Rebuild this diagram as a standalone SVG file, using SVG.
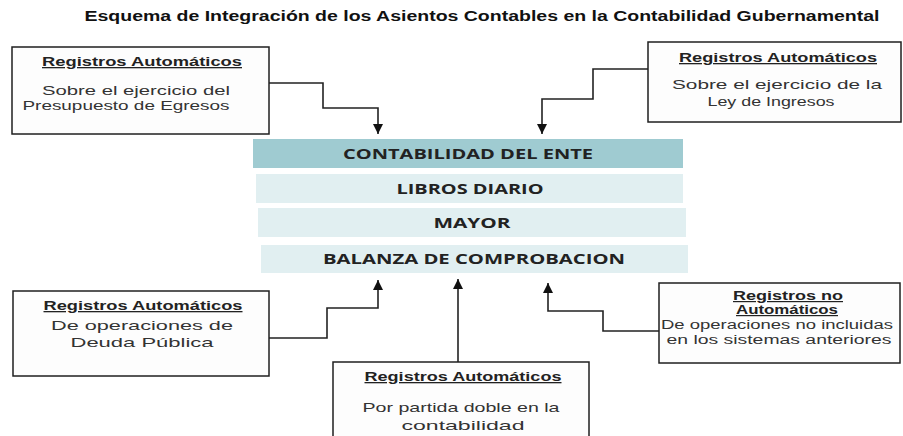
<svg xmlns="http://www.w3.org/2000/svg" width="903" height="436" viewBox="0 0 903 436">
<style>
.box{fill:#fdfdfd;stroke:#1f1f1f;stroke-width:1.5}
.h{font-family:"Liberation Sans",Arial,sans-serif;font-weight:bold;font-size:13px;fill:#222;text-anchor:middle;text-decoration:underline}
.h2{font-family:"Liberation Sans",Arial,sans-serif;font-weight:bold;font-size:12px;fill:#222;text-anchor:middle;text-decoration:underline}
.t{font-family:"Liberation Sans",Arial,sans-serif;font-size:13px;fill:#333;text-anchor:middle}
.s{font-family:"Liberation Sans",Arial,sans-serif;font-size:12px;fill:#333;text-anchor:middle}
.bar{fill:#e1eff1}
.bt{font-family:"Open Sans","Liberation Sans",sans-serif;font-weight:bold;font-size:14px;fill:#222;text-anchor:middle}
.c{fill:none;stroke:#222;stroke-width:1.6;marker-end:url(#ah)}
</style>
<defs>
<marker id="ah" markerUnits="userSpaceOnUse" markerWidth="10" markerHeight="10" refX="10" refY="5" orient="auto">
<path d="M0,0 L10,5 L0,10 z" fill="#111"/>
</marker>
</defs>
<rect width="903" height="436" fill="#ffffff"/>
<text x="482" y="21" font-family="Liberation Sans,Arial,sans-serif" font-weight="bold" font-size="14" fill="#111" text-anchor="middle" textLength="795" lengthAdjust="spacingAndGlyphs">Esquema de Integración de los Asientos Contables en la Contabilidad Gubernamental</text>

<g id="connectors">
<path class="c" d="M269,83 H323 V108 H378 V134"/>
<path class="c" d="M648,69 H593 V99 H542 V134"/>
<path class="c" d="M269,338 H327 V308 H378 V280"/>
<path class="c" d="M458,362 V279"/>
<path class="c" d="M659,331 H603 V311 H548 V283"/>
</g>

<g id="contabilidad-ente">
<rect x="253" y="139" width="430" height="29" fill="#9fcbd1"/>
<text class="bt" x="468" y="159" textLength="250" lengthAdjust="spacingAndGlyphs">CONTABILIDAD DEL ENTE</text>
</g>
<g id="libros-diario">
<rect class="bar" x="256" y="174" width="427" height="29"/>
<text class="bt" x="470" y="194" textLength="147" lengthAdjust="spacingAndGlyphs">LIBROS DIARIO</text>
</g>
<g id="mayor">
<rect class="bar" x="258" y="208" width="428" height="29"/>
<text class="bt" x="472" y="228" textLength="77" lengthAdjust="spacingAndGlyphs">MAYOR</text>
</g>
<g id="balanza">
<rect class="bar" x="261" y="245" width="427" height="28"/>
<text class="bt" x="474" y="264" textLength="302" lengthAdjust="spacingAndGlyphs">BALANZA DE COMPROBACION</text>
</g>

<g id="egresos">
<rect class="box" x="12" y="47" width="257" height="87"/>
<text class="h" x="142" y="66" textLength="200" lengthAdjust="spacingAndGlyphs">Registros Automáticos</text>
<text class="t" x="136" y="95" textLength="188" lengthAdjust="spacingAndGlyphs">Sobre el ejercicio del</text>
<text class="t" x="126" y="110" textLength="207" lengthAdjust="spacingAndGlyphs">Presupuesto de Egresos</text>
</g>

<g id="ingresos">
<rect class="box" x="648" y="42" width="253" height="80"/>
<text class="h" x="778" y="62" textLength="198" lengthAdjust="spacingAndGlyphs">Registros Automáticos</text>
<text class="t" x="777" y="89" textLength="210" lengthAdjust="spacingAndGlyphs">Sobre el ejercicio de la</text>
<text class="t" x="771" y="106" textLength="127" lengthAdjust="spacingAndGlyphs">Ley de Ingresos</text>
</g>

<g id="deuda">
<rect class="box" x="13" y="291" width="256" height="85"/>
<text class="h" x="143" y="310" textLength="199" lengthAdjust="spacingAndGlyphs">Registros Automáticos</text>
<text class="t" x="142" y="330" textLength="182" lengthAdjust="spacingAndGlyphs">De operaciones de</text>
<text class="t" x="142" y="347" textLength="143" lengthAdjust="spacingAndGlyphs">Deuda Pública</text>
</g>

<g id="partida-doble">
<rect class="box" x="333" y="362" width="256" height="90"/>
<text class="h" x="463" y="381" textLength="197" lengthAdjust="spacingAndGlyphs">Registros Automáticos</text>
<text class="t" x="461" y="412" textLength="197" lengthAdjust="spacingAndGlyphs">Por partida doble en la</text>
<text class="t" x="463" y="430" textLength="123" lengthAdjust="spacingAndGlyphs">contabilidad</text>
</g>

<g id="no-automaticos">
<rect class="box" x="659" y="283" width="241" height="80"/>
<text class="h2" x="788" y="300" textLength="110" lengthAdjust="spacingAndGlyphs">Registros no</text>
<text class="h2" x="787" y="314" textLength="102" lengthAdjust="spacingAndGlyphs">Automáticos</text>
<text class="s" x="777" y="328.5" textLength="232" lengthAdjust="spacingAndGlyphs">De operaciones no incluidas</text>
<text class="s" x="779" y="343.5" textLength="225" lengthAdjust="spacingAndGlyphs">en los sistemas anteriores</text>
</g>
</svg>
